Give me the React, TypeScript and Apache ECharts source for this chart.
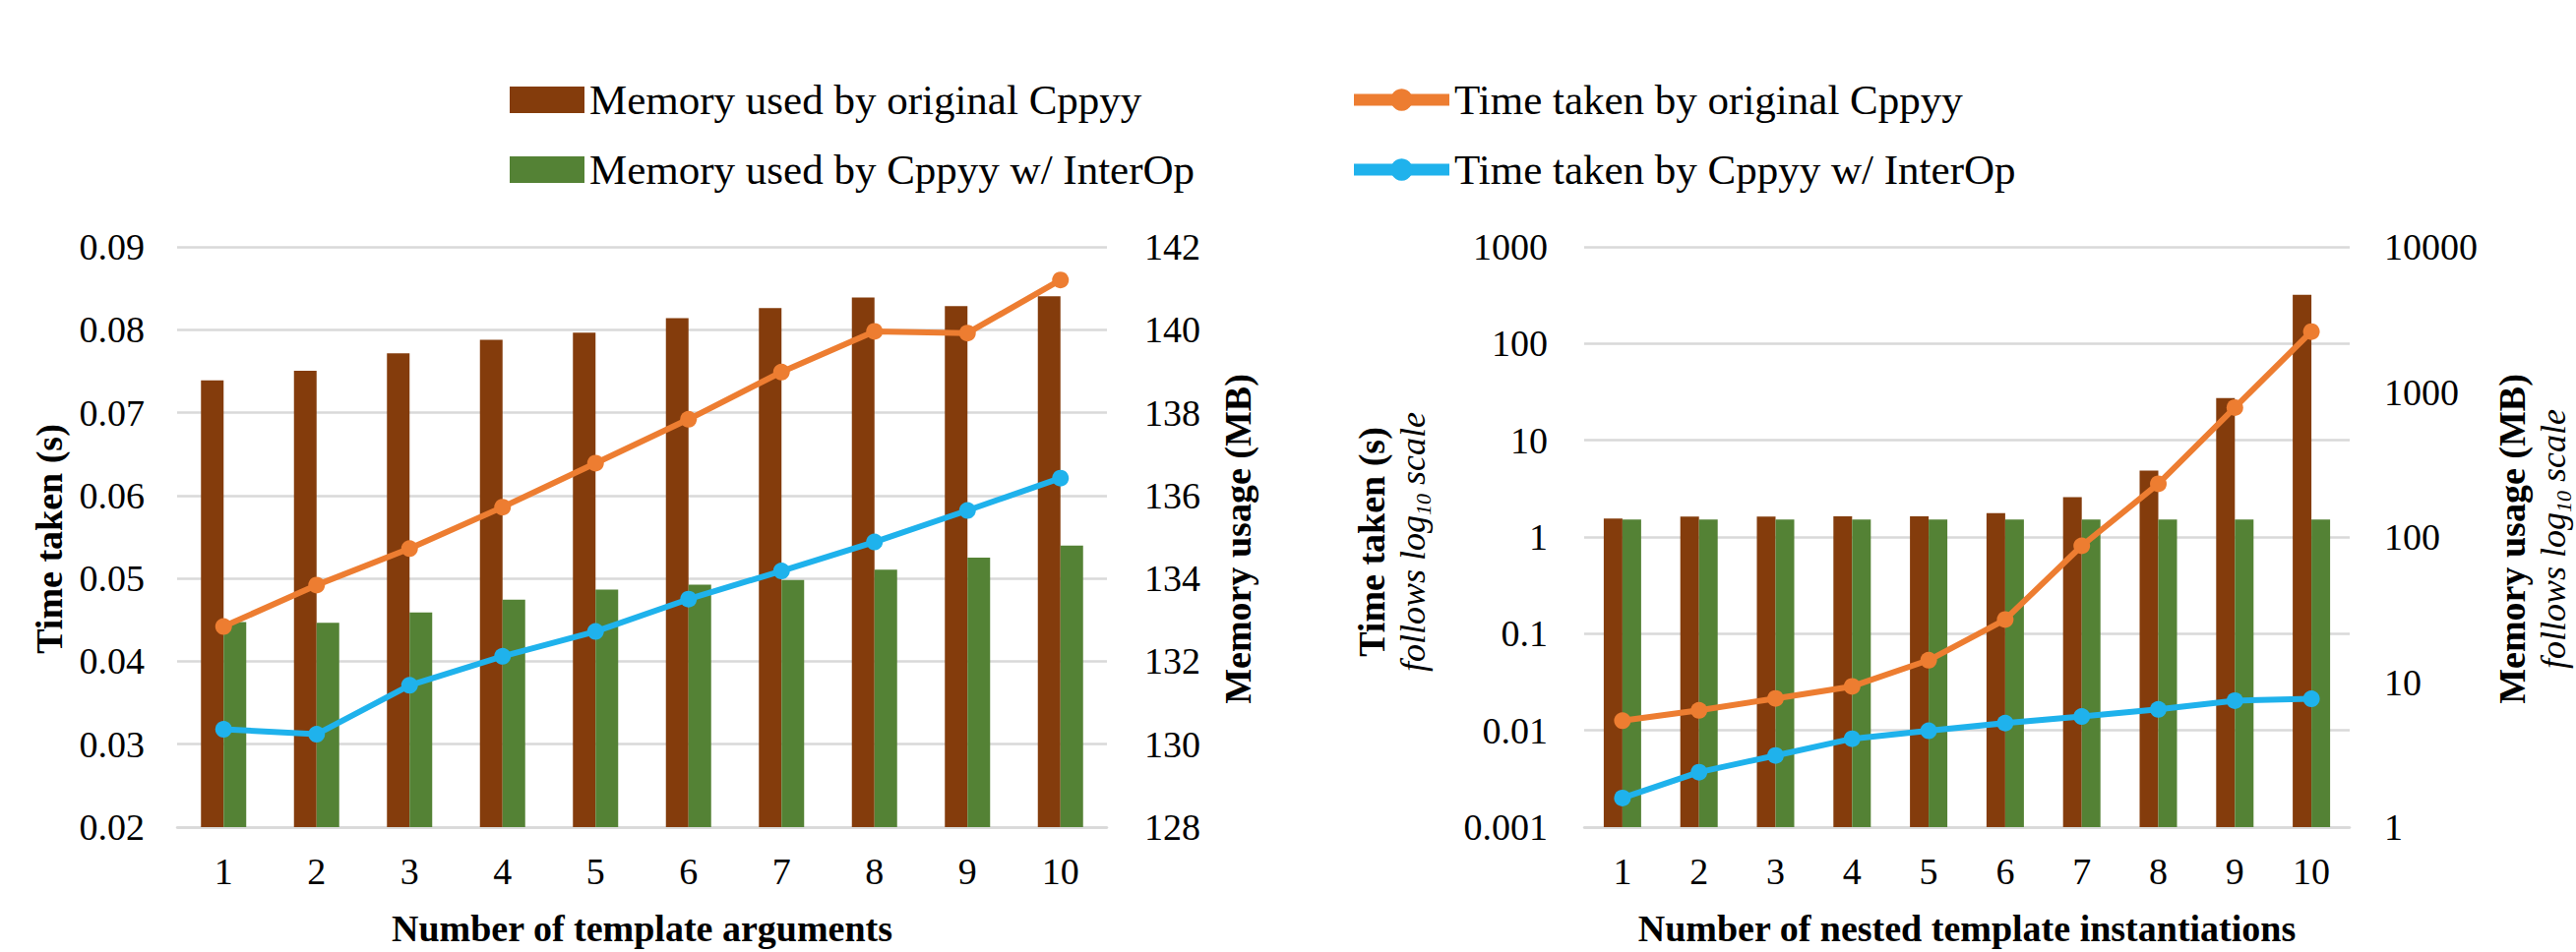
import React, { useEffect, useRef } from "react";
import * as echarts from "echarts";

const FONT = "'Liberation Serif', 'Times New Roman', serif";

const categories = ["1", "2", "3", "4", "5", "6", "7", "8", "9", "10"];

// Left chart: number of template arguments
const leftTimeOriginal = [0.0442, 0.0492, 0.0536, 0.0586, 0.0639, 0.0692, 0.0749, 0.0798, 0.0796, 0.086];
const leftTimeInterop = [0.0318, 0.0312, 0.0371, 0.0406, 0.0436, 0.0475, 0.0509, 0.0544, 0.0582, 0.0621];
const leftMemOriginal = [138.78, 139.01, 139.43, 139.76, 139.93, 140.28, 140.52, 140.78, 140.57, 140.81];
const leftMemInterop = [132.95, 132.93, 133.18, 133.49, 133.73, 133.85, 133.96, 134.21, 134.5, 134.79];

// Right chart: number of nested template instantiations (log scales)
const rightTimeOriginal = [0.0126, 0.0161, 0.0214, 0.0285, 0.0532, 0.14, 0.81, 3.55, 21.8, 133];
const rightTimeInterop = [0.002, 0.0037, 0.0055, 0.0082, 0.0099, 0.0119, 0.0139, 0.0165, 0.0203, 0.0212];
const rightMemOriginal = [134, 138, 138, 139, 139, 146, 188, 287, 908, 4670];
const rightMemInterop = [132, 132, 132, 132, 132, 132, 132, 132, 132, 132];

const NAME_MEM_ORIG = "Memory used by original Cppyy";
const NAME_MEM_INTEROP = "Memory used by Cppyy w/ InterOp";
const NAME_TIME_ORIG = "Time taken by original Cppyy";
const NAME_TIME_INTEROP = "Time taken by Cppyy w/ InterOp";

const C_BROWN = "#843C0C";
const C_GREEN = "#548235";
const C_ORANGE = "#ED7D31";
const C_BLUE = "#1FB2EC";
const C_GRID = "#D9D9D9";

const fmtNum = (v: number) => String(Number(Number(v).toPrecision(6)));

export default function App() {
  const ref = useRef<HTMLDivElement>(null);

  useEffect(() => {
    if (!ref.current) return;
    const chart = echarts.init(ref.current, undefined, { renderer: "svg" });

    const labelStyle = { fontFamily: FONT, fontSize: 38, color: "#000" };
    const legendText = { fontFamily: FONT, fontSize: 43, color: "#000", lineHeight: 43 };

    const xAxisBase = (gridIndex: number, name: string) => ({
      type: "category",
      gridIndex,
      data: categories,
      axisLine: { show: true, lineStyle: { color: C_GRID, width: 2.5 } },
      axisTick: { show: false },
      axisLabel: { ...labelStyle, margin: 26 },
      name,
      nameLocation: "middle",
      nameGap: 84,
      nameTextStyle: { fontFamily: FONT, fontSize: 38, fontWeight: "bold", color: "#000" },
    });

    const lineSeries = (name: string, color: string, data: number[], xi: number, yi: number) => ({
      name,
      type: "line",
      xAxisIndex: xi,
      yAxisIndex: yi,
      data,
      z: 3,
      symbol: "circle",
      symbolSize: 17,
      lineStyle: { color, width: 6 },
      itemStyle: { color },
    });

    const barSeries = (name: string, color: string, data: number[], xi: number, yi: number, w: number) => ({
      name,
      type: "bar",
      xAxisIndex: xi,
      yAxisIndex: yi,
      data,
      barWidth: w,
      barGap: "0%",
      itemStyle: { color },
    });

    const richTitle = {
      b: { fontFamily: FONT, fontSize: 38, fontWeight: "bold", fill: "#000", lineHeight: 42 },
      i: { fontFamily: FONT, fontSize: 36, fontStyle: "italic", fill: "#000", lineHeight: 42 },
      s: { fontFamily: FONT, fontSize: 22, fontStyle: "italic", fill: "#000", verticalAlign: "bottom", lineHeight: 42 },
    };

    const option: any = {
      animation: false,
      backgroundColor: "#ffffff",
      textStyle: { fontFamily: FONT },
      legend: [
        {
          data: [NAME_MEM_ORIG], left: 518, top: 80, padding: 0,
          itemWidth: 76, itemHeight: 27, textStyle: legendText, icon: "rect",
        },
        {
          data: [NAME_MEM_INTEROP], left: 518, top: 151, padding: 0,
          itemWidth: 76, itemHeight: 27, textStyle: legendText, icon: "rect",
        },
        {
          data: [NAME_TIME_ORIG], left: 1370, top: 80, padding: 0,
          itemWidth: 97, itemHeight: 28, textStyle: legendText, lineStyle: { width: 12 },
        },
        {
          data: [NAME_TIME_INTEROP], left: 1370, top: 151, padding: 0,
          itemWidth: 97, itemHeight: 28, textStyle: legendText, lineStyle: { width: 12 },
        },
      ],
      grid: [
        { left: 180, top: 251, width: 945, height: 595 },
        { left: 1610, top: 251, width: 778, height: 595 },
      ],
      xAxis: [
        xAxisBase(0, "Number of template arguments"),
        xAxisBase(1, "Number of nested template instantiations"),
      ],
      yAxis: [
        {
          type: "value", gridIndex: 0, position: "left",
          min: 0.02, max: 0.09, interval: 0.01,
          axisLine: { show: false }, axisTick: { show: false },
          axisLabel: { ...labelStyle, margin: 33, formatter: (v: number) => v.toFixed(2) },
          splitLine: { show: true, lineStyle: { color: C_GRID, width: 2.5 } },
        },
        {
          type: "value", gridIndex: 0, position: "right",
          min: 128, max: 142, interval: 2,
          axisLine: { show: false }, axisTick: { show: false },
          axisLabel: { ...labelStyle, margin: 38 },
          splitLine: { show: false },
        },
        {
          type: "log", logBase: 10, gridIndex: 1, position: "left",
          min: 0.001, max: 1000,
          axisLine: { show: false }, axisTick: { show: false },
          axisLabel: { ...labelStyle, margin: 37, formatter: fmtNum },
          splitLine: { show: true, lineStyle: { color: C_GRID, width: 2.5 } },
        },
        {
          type: "log", logBase: 10, gridIndex: 1, position: "right",
          min: 1, max: 10000,
          axisLine: { show: false }, axisTick: { show: false },
          axisLabel: { ...labelStyle, margin: 35, formatter: fmtNum },
          splitLine: { show: false },
        },
      ],
      series: [
        barSeries(NAME_MEM_ORIG, C_BROWN, leftMemOriginal, 0, 1, 23),
        barSeries(NAME_MEM_INTEROP, C_GREEN, leftMemInterop, 0, 1, 23),
        lineSeries(NAME_TIME_ORIG, C_ORANGE, leftTimeOriginal, 0, 0),
        lineSeries(NAME_TIME_INTEROP, C_BLUE, leftTimeInterop, 0, 0),
        barSeries(NAME_MEM_ORIG, C_BROWN, rightMemOriginal, 1, 3, 19),
        barSeries(NAME_MEM_INTEROP, C_GREEN, rightMemInterop, 1, 3, 19),
        lineSeries(NAME_TIME_ORIG, C_ORANGE, rightTimeOriginal, 1, 2),
        lineSeries(NAME_TIME_INTEROP, C_BLUE, rightTimeInterop, 1, 2),
      ],
      graphic: [
        {
          type: "text", x: 50, y: 548, rotation: Math.PI / 2,
          style: {
            text: "Time taken (s)", fontFamily: FONT, fontSize: 38, fontWeight: "bold",
            fill: "#000", align: "center", verticalAlign: "middle",
          },
        },
        {
          type: "text", x: 1258, y: 548, rotation: Math.PI / 2,
          style: {
            text: "Memory usage (MB)", fontFamily: FONT, fontSize: 38, fontWeight: "bold",
            fill: "#000", align: "center", verticalAlign: "middle",
          },
        },
        {
          type: "text", x: 1415, y: 551, rotation: Math.PI / 2,
          style: {
            text: "{b|Time taken (s)}\n{i|follows log}{s|10}{i| scale}",
            align: "center", verticalAlign: "middle",
            rich: richTitle,
          },
        },
        {
          type: "text", x: 2574, y: 548, rotation: Math.PI / 2,
          style: {
            text: "{b|Memory usage (MB)}\n{i|follows log}{s|10}{i| scale}",
            align: "center", verticalAlign: "middle",
            rich: richTitle,
          },
        },
      ],
    };

    chart.setOption(option);
    return () => chart.dispose();
  }, []);

  return (
    <div
      ref={ref}
      style={{ position: "fixed", left: 0, top: 0, width: 2618, height: 968, background: "#fff" }}
    />
  );
}
